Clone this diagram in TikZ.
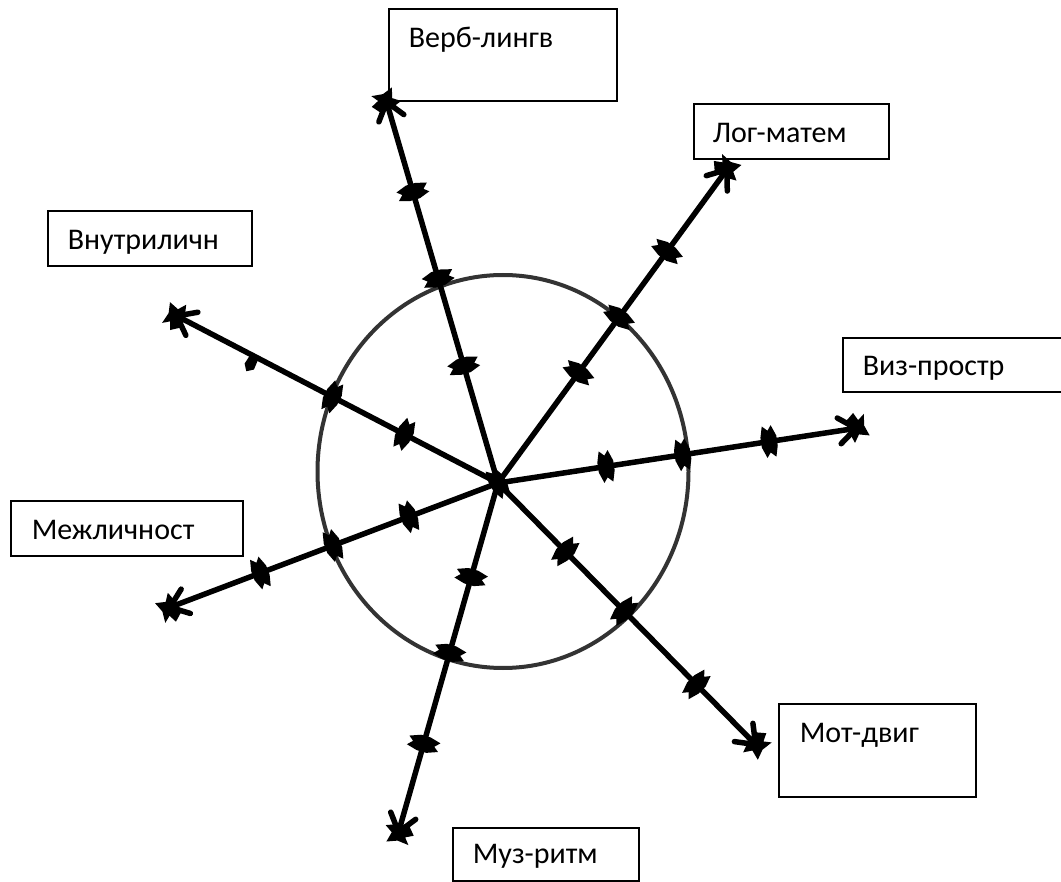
\documentclass[tikz,border=0pt]{standalone}
\usepackage{fontspec}
\setmainfont{Carlito}
\usetikzlibrary{arrows.meta,calc,shapes.geometric}
\begin{document}
\begin{tikzpicture}[x=1pt,y=-1pt,
  box/.style={draw, line width=1.6pt, fill=white, anchor=north west, inner ysep=0pt,
    align=left, font=\fontsize{30}{35}\selectfont},
  ray/.style={line width=5.5pt},
  ring/.style={draw=black!80, ellipse, line width=4pt, inner sep=0pt},
  mk/.pic={\fill (-8,-5) -- (-5,-16) -- (0,-11) -- (4,-16) -- (8,-5) -- (8,5) -- (5,16) -- (0,11) -- (-4,16) -- (-8,5) -- cycle;},
  mkhalf/.pic={\fill (-5,0) -- (-6,-12) -- (0,-17) -- (5,-11) -- (4,0) -- cycle;},
  tipblob/.pic={
    \draw[line width=5.5pt, line cap=round, line join=round] (-19,-13) -- (-2,0) -- (-19,13);
    \fill[scale=1.3] (-9,-6) -- (-2,-12) -- (1,-6) -- (6,-10) -- (5,-1) -- (8,7) -- (0,5) -- (-4,11) -- (-7,3) -- cycle;}
]
\useasboundingbox (0,0) rectangle (1061,882);
\clip (0,0) rectangle (1061,882);

% ring
\node[ring, minimum width=371pt, minimum height=393pt] (circ) at (503,471.5) {};

% boxes
\node[box, inner xsep=20pt, text width=188pt, text height=39pt, text depth=53pt] (verb) at (388,8) {Верб-лингв};
\node[box, inner xsep=19pt, text width=157pt, text height=39pt, text depth=16pt] (log) at (693,103) {Лог-матем};
\node[box, inner xsep=20pt, text width=184pt, text height=38pt, text depth=16pt] (viz) at (842,337) {Виз-простр};
\node[box, inner xsep=21pt, text width=155pt, text height=39pt, text depth=54pt] (mot) at (778,703) {Мот-двиг};
\node[box, inner xsep=20pt, text width=146pt, text height=36pt, text depth=17pt] (muz) at (452,827) {Муз-ритм};
\node[box, inner xsep=21pt, text width=190pt, text height=39pt, text depth=16pt] (mezh) at (10,500) {Межличност};
\node[box, inner xsep=20pt, text width=164pt, text height=39pt, text depth=16pt] (vnutr) at (47,210) {Внутриличн};

% centre and tips
\coordinate (C) at (498,483);
\coordinate (t1) at (386,100);
\coordinate (t2) at (728,168);
\coordinate (t3) at (858,428);
\coordinate (t4) at (757,746);
\coordinate (t5) at (398,834);
\coordinate (t6) at (168,608);
\coordinate (t7) at (175,315);

% rays
\foreach \t in {t1,t2,t3,t4,t5,t6,t7} {\draw[ray] (C) -- ($(\t)!4pt!(C)$);}

% markers: ray 1 (Верб)
\pic[rotate=106.3] at ($(C)!.306!(t1)$) {mk};
\pic[rotate=106.3] at ($(C)!.534!(t1)$) {mk};
\pic[rotate=106.3] at ($(C)!.76!(t1)$) {mk};
\pic[rotate=106.3] at (t1) {tipblob};
% ray 2 (Лог)
\pic[rotate=53.9] at ($(C)!.35!(t2)$) {mk};
\pic[rotate=53.9] at ($(C)!.526!(t2)$) {mk};
\pic[rotate=53.9] at ($(C)!.735!(t2)$) {mk};
\pic[rotate=53.9] at (t2) {tipblob};
% ray 3 (Виз)
\pic[rotate=8.7] at ($(C)!.30!(t3)$) {mk};
\pic[rotate=8.7] at ($(C)!.513!(t3)$) {mk};
\pic[rotate=8.7] at ($(C)!.753!(t3)$) {mk};
\pic[rotate=8.7] at (t3) {tipblob};
% ray 4 (Мот)
\pic[rotate=-45.4] at ($(C)!.26!(t4)$) {mk};
\pic[rotate=-45.4] at ($(C)!.487!(t4)$) {mk};
\pic[rotate=-45.4] at ($(C)!.766!(t4)$) {mk};
\pic[rotate=-45.4] at (t4) {tipblob};
% ray 5 (Муз)
\pic[rotate=-105.9] at ($(C)!.268!(t5)$) {mk};
\pic[rotate=-105.9] at ($(C)!.484!(t5)$) {mk};
\pic[rotate=-105.9] at ($(C)!.743!(t5)$) {mk};
\pic[rotate=-105.9] at (t5) {tipblob};
% ray 6 (Межл)
\pic[rotate=-159.3] at ($(C)!.27!(t6)$) {mk};
\pic[rotate=-159.3] at ($(C)!.50!(t6)$) {mk};
\pic[rotate=-159.3] at ($(C)!.72!(t6)$) {mk};
\pic[rotate=-159.3] at (t6) {tipblob};
% ray 7 (Внутр)
\pic[rotate=152.5] at ($(C)!.29!(t7)$) {mk};
\pic[rotate=152.5] at ($(C)!.513!(t7)$) {mk};
\pic[rotate=152.5] at ($(C)!.755!(t7)$) {mkhalf};
\pic[rotate=152.5] at (t7) {tipblob};

% centre blob
\pic[rotate=30] at (C) {mk};
\end{tikzpicture}
\end{document}
